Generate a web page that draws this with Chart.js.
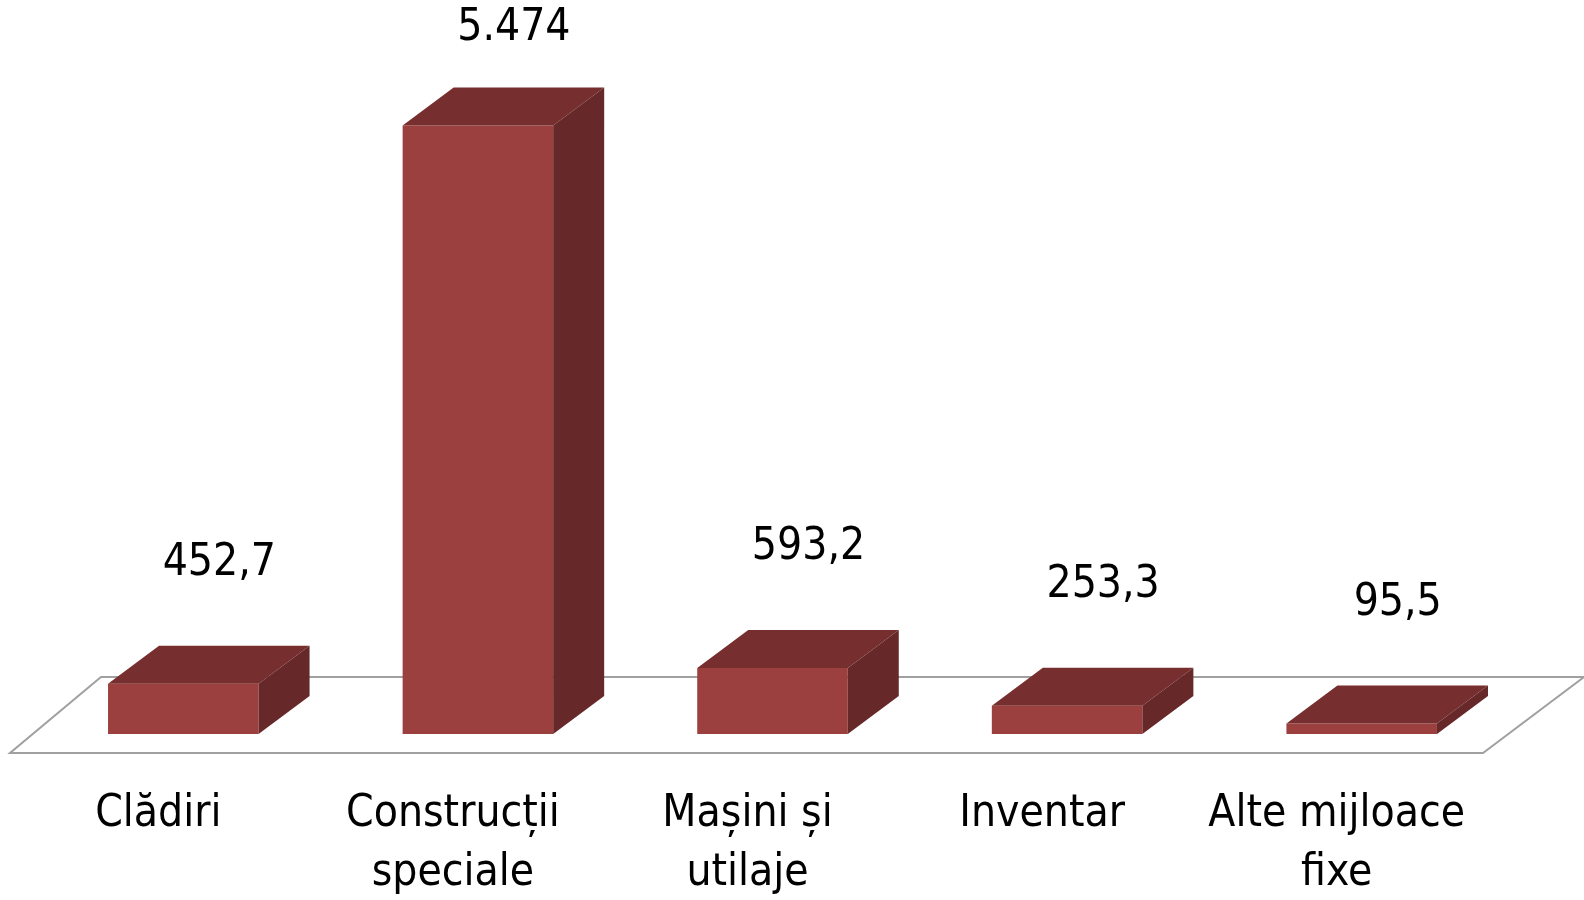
<!DOCTYPE html>
<html>
<head>
<meta charset="utf-8">
<script src="https://cdn.jsdelivr.net/npm/chart.js@4"></script>
<style>
  html, body { margin: 0; padding: 0; background: #fff; }
  #wrap { width: 1584px; height: 900px; }
</style>
</head>
<body>
<div id="wrap"><canvas id="myChart"></canvas></div>
<script>
const categories = [['Clădiri'], ['Construcții', 'speciale'], ['Mașini și', 'utilaje'], ['Inventar'], ['Alte mijloace', 'fixe']];
const values = [452.7, 5474, 593.2, 253.3, 95.5];
const valueLabels = ['452,7', '5.474', '593,2', '253,3', '95,5'];

const FONT = "'Liberation Sans Narrow', 'Arial Narrow', 'DejaVu Sans Condensed', sans-serif";
const depth = { dx: 51, dy: -38 };

// floor + 3D faces + value labels
const box3d = {
  id: 'box3d',
  beforeDatasetsDraw(chart) {
    const a = chart.chartArea;
    const c = chart.ctx;
    c.save();
    c.strokeStyle = '#a0a0a0';
    c.lineWidth = 2;
    c.beginPath();
    c.moveTo(a.left - 26, a.bottom + 19);
    c.lineTo(a.right - 26, a.bottom + 19);
    c.lineTo(a.right + 75, a.bottom - 57);
    c.lineTo(a.left + 65, a.bottom - 57);
    c.closePath();
    c.stroke();
    c.restore();
  },
  afterDatasetsDraw(chart) {
    const c = chart.ctx;
    const meta = chart.getDatasetMeta(0);
    c.save();
    meta.data.forEach((bar, i) => {
      const x0 = bar.x - bar.width / 2;
      const x1 = bar.x + bar.width / 2;
      const top = bar.y;
      const bottom = bar.base;
      // top face
      c.fillStyle = '#772e2e';
      c.beginPath();
      c.moveTo(x0, top);
      c.lineTo(x0 + depth.dx, top + depth.dy);
      c.lineTo(x1 + depth.dx, top + depth.dy);
      c.lineTo(x1, top);
      c.closePath();
      c.fill();
      // side face
      c.fillStyle = '#672829';
      c.beginPath();
      c.moveTo(x1, top);
      c.lineTo(x1 + depth.dx, top + depth.dy);
      c.lineTo(x1 + depth.dx, bottom + depth.dy);
      c.lineTo(x1, bottom);
      c.closePath();
      c.fill();
      // value label, kept inside the canvas
      c.fillStyle = '#000';
      c.font = '44px ' + FONT;
      c.textAlign = 'center';
      c.textBaseline = 'middle';
      const ly = Math.max(top + depth.dy - 82, 29);
      c.fillText(valueLabels[i], bar.x + 36, ly);
    });
    c.restore();
  }
};

new Chart(document.getElementById('myChart'), {
  type: 'bar',
  data: {
    labels: categories,
    datasets: [{
      data: values,
      backgroundColor: '#9c403f',
      borderWidth: 0,
      categoryPercentage: 1,
      barPercentage: 0.511
    }]
  },
  options: {
    responsive: true,
    maintainAspectRatio: false,
    animation: false,
    layout: { padding: { top: 67, left: 36, right: 75, bottom: 0 } },
    plugins: { legend: { display: false }, tooltip: { enabled: false } },
    scales: {
      x: {
        grid: { display: false, drawTicks: false },
        border: { display: false },
        ticks: {
          color: '#000',
          font: { family: FONT, size: 44, lineHeight: 1.32 },
          padding: 52,
          labelOffset: -25,
          maxRotation: 0,
          autoSkip: false
        },
        afterFit(scale) { scale.height = 166; }
      },
      y: {
        display: false,
        min: 0,
        max: 6000
      }
    }
  },
  plugins: [box3d]
});
</script>
</body>
</html>
